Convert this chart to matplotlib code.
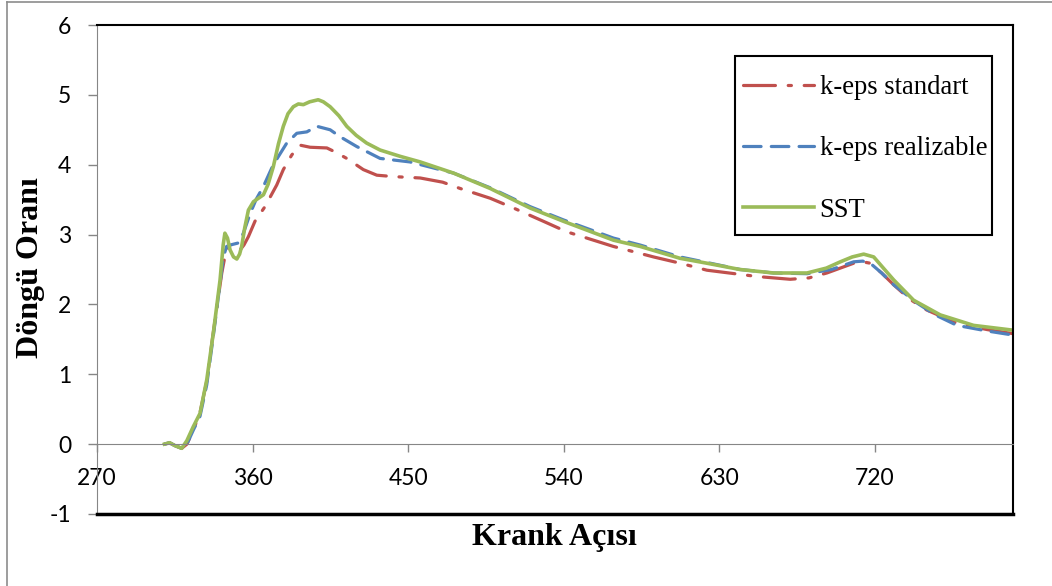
import matplotlib
matplotlib.use('Agg')
import matplotlib.pyplot as plt
from matplotlib.lines import Line2D
from matplotlib.patches import Rectangle

plt.rcParams['axes.unicode_minus'] = False

# k-eps standart
std_angle = [309, 312, 315, 319, 322, 325.7, 329.6, 333.5, 337.3, 342.2, 344.5, 347, 349.5,
             352.8, 355, 357.6, 361.4, 367.2, 374, 377.8, 382.7, 387.5, 393.3, 403, 408,
             414.5, 424.1, 431.9, 441.5, 457, 470, 480.1, 497.5, 511, 528.3, 541.8, 568.8,
             592, 607.4, 622.9, 651.8, 671.1, 682, 692.3, 707.8, 713, 717.4, 724, 731, 740,
             750.1, 767.6, 785, 800.4]
std_swirl = [0.0, 0.02, -0.02, -0.06, 0.0, 0.2, 0.45, 0.9, 1.6, 2.45, 2.75, 2.85, 2.84,
             2.78, 2.85, 2.97, 3.19, 3.40, 3.71, 3.93, 4.14, 4.28, 4.25, 4.24, 4.18,
             4.09, 3.93, 3.85, 3.83, 3.81, 3.75, 3.66, 3.52, 3.38, 3.19, 3.04, 2.83,
             2.68, 2.59, 2.49, 2.40, 2.36, 2.38, 2.45, 2.59, 2.61, 2.59, 2.45, 2.28, 2.08,
             1.92, 1.73, 1.64, 1.58]

# k-eps realizable
rlz_angle = [309, 312, 315, 319, 322, 325.7, 329.6, 333.5, 337.3, 341.2, 343.1, 345, 347,
             351.8, 354.7, 358.6, 362, 366.3, 372, 379.8, 385.6, 391.4, 397.2, 404.9,
             410.7, 420.3, 433.8, 451, 476.3, 497.5, 520.6, 539.9, 568.8, 584.3, 607.4,
             622.9, 642.2, 661.5, 680.8, 695, 707.8, 713, 717.4, 724, 731, 744.5, 755,
             767.6, 785, 800.4]
rlz_swirl = [0.0, 0.02, -0.02, -0.06, 0.0, 0.2, 0.4, 0.85, 1.55, 2.3, 2.68, 2.83, 2.85,
             2.88, 3.02, 3.30, 3.5, 3.69, 4.0, 4.31, 4.45, 4.47, 4.55, 4.50,
             4.40, 4.26, 4.09, 4.04, 3.88, 3.67, 3.40, 3.21, 2.95, 2.85, 2.68,
             2.60, 2.50, 2.45, 2.44, 2.50, 2.61, 2.62, 2.59, 2.45, 2.28, 2.02, 1.85,
             1.70, 1.62, 1.56]

# SST
sst_angle = [309, 312, 315, 319, 322, 325.7, 329.6, 333.5, 337.3, 341.2, 343, 344, 345.5,
             347, 349, 350.9, 352.5, 353.7, 355.5, 357.6, 360.5, 366.3, 369, 372, 375,
             377.8, 380.5, 383.6, 386.5, 389.4, 393, 398, 401, 404.9, 410, 414.5, 420,
             426, 433.8, 445.4, 457, 476.3, 497.5, 520.6, 539.9, 568.8, 584.3, 607.4,
             622.9, 642, 661.5, 680.8, 692, 700.1, 707, 713.6, 719.4, 725, 731, 742.5,
             757.9, 777.2, 800.4]
sst_swirl = [0.0, 0.02, -0.02, -0.06, 0.05, 0.25, 0.44, 0.92, 1.59, 2.35, 2.85, 3.02, 2.95,
             2.78, 2.68, 2.65, 2.72, 2.83, 3.1, 3.35, 3.47, 3.57, 3.72, 3.97, 4.3,
             4.55, 4.73, 4.83, 4.87, 4.86, 4.9, 4.93, 4.9, 4.83, 4.7, 4.55, 4.42,
             4.31, 4.21, 4.12, 4.04, 3.88, 3.66, 3.38, 3.19, 2.92, 2.83, 2.66,
             2.59, 2.50, 2.45, 2.45, 2.52, 2.61, 2.68, 2.72, 2.68, 2.52, 2.35, 2.06,
             1.85, 1.70, 1.63]

x_ticks = [270, 360, 450, 540, 630, 720]
y_ticks = [-1, 0, 1, 2, 3, 4, 5, 6]

W, H = 1052, 586
fig = plt.figure(figsize=(W / 100, H / 100), dpi=100)
ax = fig.add_axes([97 / W, 1 - 514 / H, (1013 - 97) / W, (514 - 25) / H])

axis_gray = '#868686'
lw = 2.3
ax.plot(std_angle, std_swirl, color='#C0504D', lw=lw, dashes=(10, 4, 1, 4),
        dash_capstyle='round', label='k-eps standart')
ax.plot(rlz_angle, rlz_swirl, color='#4F81BD', lw=lw, dashes=(5.5, 3.2),
        dash_capstyle='round', label='k-eps realizable')
ax.plot(sst_angle, sst_swirl, color='#9BBB59', lw=2.6, label='SST')

ax.set_xlim(270, 800)
ax.set_ylim(-1, 6)
ax.set_xticks(x_ticks)
ax.set_yticks(y_ticks)

# x axis crosses at y=0, frame drawn round the plot area
ax.spines['bottom'].set_position(('data', 0))
ax.spines['bottom'].set_color(axis_gray)
ax.spines['left'].set_color(axis_gray)
for s in ['top', 'right']:
    ax.spines[s].set_color('black')
    ax.spines[s].set_linewidth(1.5)
ax.axhline(-1, color='black', lw=2.5, clip_on=False, zorder=3)

tick_font = 'Lato'
ax.tick_params(axis='x', direction='out', length=6, width=1, color=axis_gray, pad=11,
               labelsize=16.5)
ax.tick_params(axis='y', direction='out', length=6.5, width=1, color=axis_gray, pad=12,
               labelsize=16.5)
for lab in ax.get_xticklabels() + ax.get_yticklabels():
    lab.set_family(tick_font)

fig.text(31 / W, 1 - 268 / H, 'Döngü Oranı', rotation=90, ha='center', va='center',
         family='Liberation Serif', fontweight='bold', fontsize=23)
fig.text(554 / W, 1 - 537 / H, 'Krank Açısı', ha='center', va='center',
         family='Liberation Serif', fontweight='bold', fontsize=23)

# legend entries without frame, frame drawn as its own box
leg = ax.legend(loc='upper left', bbox_to_anchor=(735 / W, 1 - 67 / H),
                bbox_transform=fig.transFigure, borderaxespad=0, frameon=False,
                prop={'family': 'Liberation Serif', 'size': 19.2}, handlelength=2.65,
                handletextpad=0.22, labelspacing=1.36, borderpad=0.3)
fig.add_artist(Rectangle((735 / W, 1 - 235 / H), (992 - 735) / W, (235 - 56) / H,
                         fill=False, edgecolor='black', lw=1.5))

# outer chart border (only left and top visible)
fig.add_artist(Line2D([7 / W, 7 / W], [0, 1 - 2 / H], color='#8c8c8c', lw=1.2))
fig.add_artist(Line2D([7 / W, 1], [1 - 2 / H, 1 - 2 / H], color='#8c8c8c', lw=1.2))

fig.savefig('out.png', dpi=100)
